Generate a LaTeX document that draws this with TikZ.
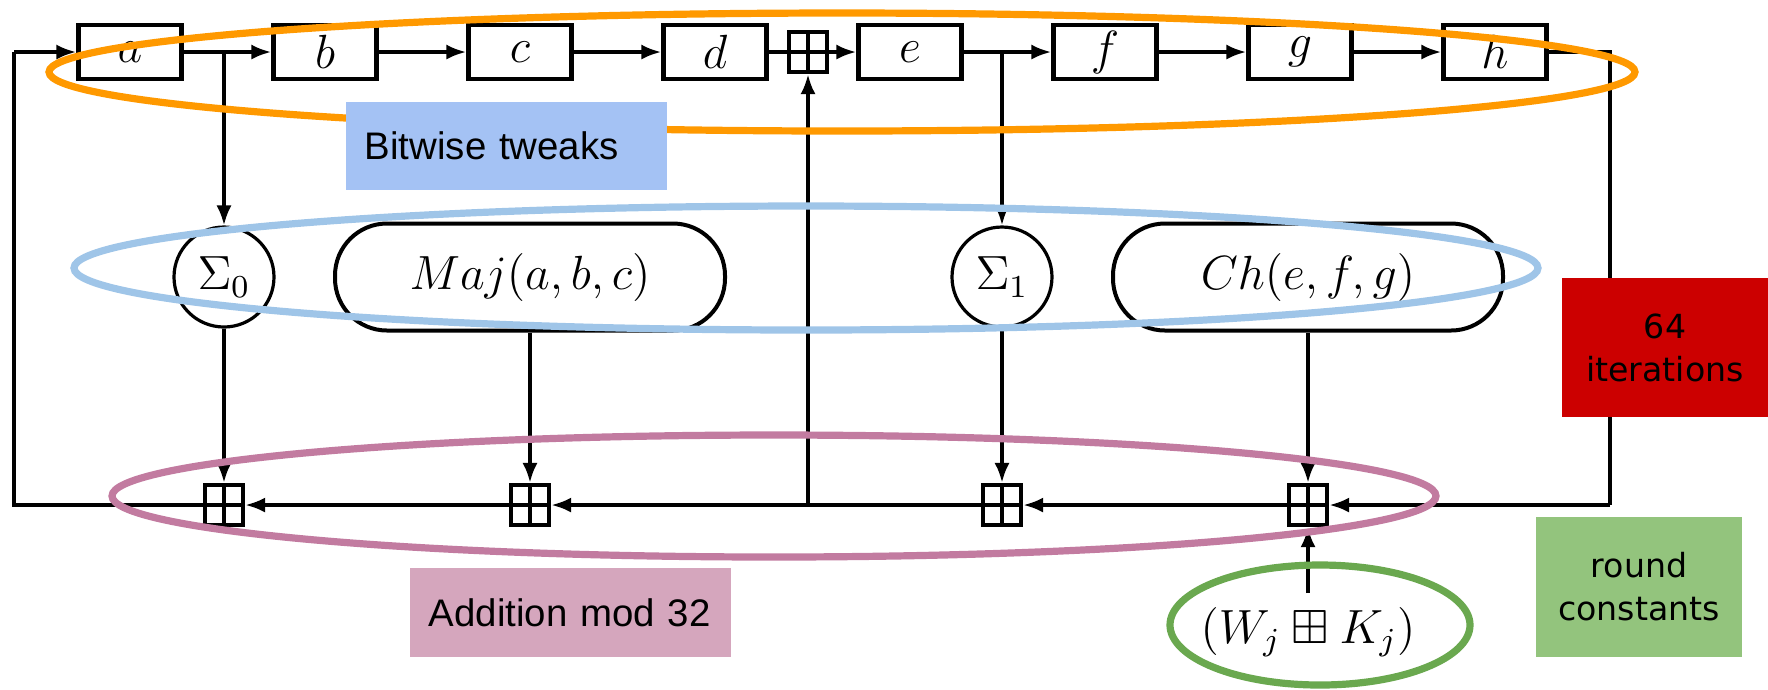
\documentclass[tikz,border=0pt]{standalone}
\usepackage{amsmath}
\usepackage{amssymb}
\usepackage{fontspec}
\newfontfamily\tagfont{Liberation Sans}
\newfontfamily\notefont{DejaVu Sans}
\usetikzlibrary{arrows.meta,positioning}
\definecolor{ringorange}{HTML}{FF9900}
\definecolor{ringblue}{HTML}{9FC5E8}
\definecolor{ringpink}{HTML}{C27BA0}
\definecolor{ringgreen}{HTML}{6AA84F}
\definecolor{bitwiseblue}{HTML}{A4C2F4}
\definecolor{additionpink}{HTML}{D5A6BD}
\definecolor{iterred}{HTML}{CC0000}
\definecolor{roundgreen}{HTML}{93C47D}

\begin{document}
\begin{tikzpicture}
[x=0.25pt,y=-0.25pt,
reg/.style={rectangle,draw=black,line width=1.1pt,minimum width=25.75pt,minimum height=13.5pt,inner sep=0pt,font=\large},
sig/.style={circle,draw=black,line width=0.8pt,minimum size=25pt,inner sep=0pt,font=\large},
fun/.style={rectangle,rounded corners=13pt,draw=black,line width=1pt,minimum width=97.5pt,minimum height=26.75pt,font=\large},
plusbox/.style={rectangle,draw=black,line width=1.1pt,minimum width=9.5pt,minimum height=10pt,inner sep=0pt,
  path picture={\draw[line width=1pt] (path picture bounding box.north) -- (path picture bounding box.south)
  (path picture bounding box.west) -- (path picture bounding box.east);}},
arr/.style={-{Latex[length=5pt,width=3.8pt]},line width=0.9pt},
ring/.style={line width=1.8pt},
tagbox/.style={rectangle,inner xsep=4.7pt,inner ysep=0pt,minimum height=22.2pt,text width=70.85pt,align=left,font=\tagfont\fontsize{9.6}{11}\selectfont},
notebox/.style={rectangle,inner sep=0pt,minimum width=51.6pt,minimum height=34.9pt,align=center,font=\notefont\fontsize{8.3}{10.8}\selectfont}]

\useasboundingbox (0,0) rectangle (1768,689);

% registers
\node[reg] (a) at (130,52) {$a$};
\node[reg] (b) at (325,52) {$b$};
\node[reg] (c) at (520,52) {$c$};
\node[reg] (d) at (715,52) {$d$};
\node[plusbox] (p0) at (808,52) {};
\node[reg] (e) at (910,52) {$e$};
\node[reg] (f) at (1105,52) {$f$};
\node[reg] (g) at (1300,52) {$g$};
\node[reg] (h) at (1495,52) {$h$};

\coordinate (tl) at (14,52);
\coordinate (bl) at (14,505);
\coordinate (ta) at (224,52);
\coordinate (te) at (1002,52);
\coordinate (tr) at (1610,52);
\coordinate (br) at (1610,505);
\coordinate (tj) at (808,505);

% functions
\node[sig] (s0) at (224,277) {$\Sigma_0$};
\node[fun] (maj) at (530,277) {$Maj(a,b,c)$};
\node[sig] (s1) at (1002,277) {$\Sigma_1$};
\node[fun] (ch) at (1308,277) {$Ch(e,f,g)$};

% adders
\node[plusbox] (p1) at (224,505) {};
\node[plusbox] (p2) at (530,505) {};
\node[plusbox] (p3) at (1002,505) {};
\node[plusbox] (p4) at (1308,505) {};

\node (wk) at (1308,632) {\large $(W_j \boxplus K_j)$};

\draw[arr] (tl) -- (a);
\draw[arr] (a) -- (b);
\draw[arr] (b) -- (c);
\draw[arr] (c) -- (d);
\draw[line width=0.9pt] (d) -- (p0);
\draw[arr] (p0) -- (e);
\draw[arr] (e) -- (f);
\draw[arr] (f) -- (g);
\draw[arr] (g) -- (h);
\draw[arr] (ta) -- (s0);
\draw[arr] (te) -- (s1);

\draw[line width=0.9pt] (h) -- (tr) -- (br);
\draw[arr] (br) -- (p4);
\draw[arr] (p4) -- (p3);
\draw[arr] (p3) -- (p2);
\draw[arr] (p2) -- (p1);
\draw[line width=0.9pt] (p1) -- (bl) -- (tl);
\draw[arr] (tj) -- (p0);

\draw[arr] (s0) -- (p1);
\draw[arr] (maj) -- (p2);
\draw[arr] (s1) -- (p3);
\draw[arr] (ch) -- (p4);
\draw[arr] (wk) -- (p4);

% highlights
\draw[ring,draw=ringorange] (842,72) ellipse [x radius=793,y radius=59];
\draw[ring,draw=ringblue] (806,268) ellipse [x radius=732,y radius=62];
\draw[ring,draw=ringpink] (774,496) ellipse [x radius=662,y radius=61];
\draw[ring,draw=ringgreen] (1320,625) ellipse [x radius=150,y radius=60];

\node[tagbox,fill=bitwiseblue] (bw) at (506.5,146) {Bitwise tweaks};
\node[tagbox,fill=additionpink] (am) at (570.5,612.5) {Addition mod 32};
\node[notebox,fill=iterred] (it) at (1665,347.5) {64\\iterations};
\node[notebox,fill=roundgreen] (rc) at (1639,587) {round\\constants};
\end{tikzpicture}
\end{document}
